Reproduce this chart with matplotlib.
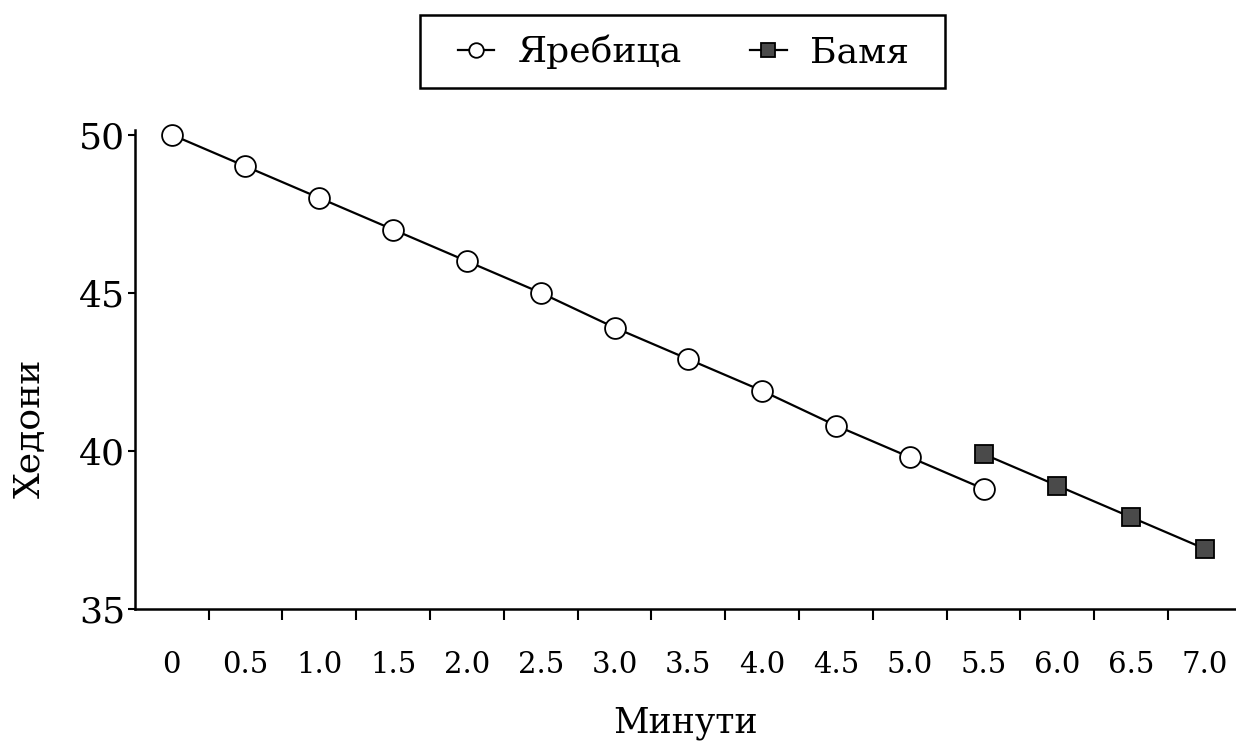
import matplotlib.pyplot as plt
from matplotlib.patches import Rectangle

# категории по оси x (минути)
minutes = ['0', '0.5', '1.0', '1.5', '2.0', '2.5', '3.0', '3.5',
           '4.0', '4.5', '5.0', '5.5', '6.0', '6.5', '7.0']
# хедони
yarebica = [50, 49, 48, 47, 46, 45, 43.9, 42.9, 41.9, 40.8, 39.8, 38.8]
bamya = [39.9, 38.9, 37.9, 36.9]
bamya_start = 11  # 5.5 минути

plt.rcParams['font.family'] = ['DejaVu Serif']

fig = plt.figure(figsize=(12.36, 7.45), dpi=100)
ax = fig.add_axes([0.109, 0.1826, 0.891, 0.643])

x1 = list(range(len(yarebica)))
x2 = list(range(bamya_start, bamya_start + len(bamya)))

ax.plot(x1, yarebica, color='black', lw=1.6, marker='o', markersize=15,
        markerfacecolor='white', markeredgecolor='black', markeredgewidth=1.3,
        label='Яребица', clip_on=False, zorder=3)
ax.plot(x2, bamya, color='black', lw=1.6, marker='s', markersize=13.5,
        markerfacecolor='#4a4a4a', markeredgecolor='black', markeredgewidth=1.3,
        label='Бамя', clip_on=False, zorder=3)

ax.set_xlim(-0.5, 14.42)
ax.set_ylim(35, 50.15)

# етикети в центъра, чертички между категориите
ax.set_xticks(range(len(minutes)))
ax.set_xticklabels(minutes, fontsize=21)
ax.set_xticks([i + 0.5 for i in range(len(minutes) - 1)], minor=True)
ax.tick_params(axis='x', which='major', length=0, pad=30)
ax.tick_params(axis='x', which='minor', length=8, width=1.5, direction='out')

ax.set_yticks([35, 40, 45, 50])
ax.tick_params(axis='y', labelsize=26, length=5, width=1.5, direction='out', pad=2)

for s in ['top', 'right']:
    ax.spines[s].set_visible(False)
for s in ['left', 'bottom']:
    ax.spines[s].set_linewidth(1.8)

ax.set_xlabel('Минути', fontsize=25, labelpad=20)
ax.set_ylabel('Хедони', fontsize=26)
ax.yaxis.set_label_coords(-0.08, 0.378)

# легенда без рамка + отделна рамка
leg = fig.legend(loc='center', bbox_to_anchor=(0.553, 0.930), ncol=2,
                 fontsize=26, frameon=False,
                 handlelength=1.0, markerscale=0.7, columnspacing=1.9,
                 handletextpad=0.65, borderpad=0.3, borderaxespad=0)
fig.patches.append(Rectangle((420 / 1236, 1 - 88 / 745), 525 / 1236, 73 / 745,
                             transform=fig.transFigure, fill=False,
                             edgecolor='black', linewidth=1.8))

plt.savefig('out.png')
